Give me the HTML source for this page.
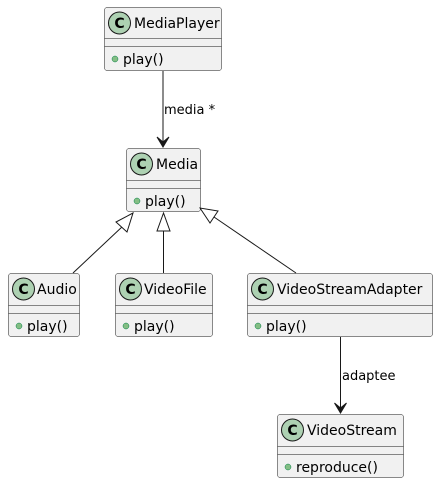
<!DOCTYPE html>
<html><head><meta charset="utf-8"><style>
html,body{margin:0;padding:0;background:#fff;}
svg{display:block;}
text{font-family:"DejaVu Sans","Liberation Sans",sans-serif;fill:#000;}
.box{fill:#F1F1F1;stroke:#181818;stroke-width:0.5;}
.sep{stroke:#181818;stroke-width:0.5;}
.ci{fill:#ADD1B2;stroke:#181818;stroke-width:1;}
.ln{stroke:#181818;stroke-width:1;fill:none;}
</style></head><body>
<svg width="438" height="484" viewBox="0 0 438 484" xmlns="http://www.w3.org/2000/svg">
<defs>
<g id="c"><circle class="ci" cx="0" cy="0" r="11"/><text x="0" y="5" text-anchor="middle" font-size="14" font-weight="bold">C</text></g>
</defs>

<rect class="box" x="104.5" y="7.5" width="117" height="63" rx="2.5"/>
<line class="sep" x1="104.5" y1="38.5" x2="221.5" y2="38.5"/>
<line class="sep" x1="104.5" y1="46.5" x2="221.5" y2="46.5"/>
<use href="#c" x="119.5" y="23"/>
<text x="134" y="28" font-size="14">MediaPlayer</text>
<circle cx="115" cy="59" r="3" fill="#84BE84" stroke="#038048" stroke-width="0.5"/>
<text x="123" y="64" font-size="14">play()</text>

<rect class="box" x="126.5" y="148.5" width="74" height="63" rx="2.5"/>
<line class="sep" x1="126.5" y1="180.5" x2="200.5" y2="180.5"/>
<line class="sep" x1="126.5" y1="188.5" x2="200.5" y2="188.5"/>
<use href="#c" x="141.5" y="164"/>
<text x="156" y="169" font-size="14">Media</text>
<circle cx="137" cy="201" r="3" fill="#84BE84" stroke="#038048" stroke-width="0.5"/>
<text x="145" y="206" font-size="14">play()</text>

<rect class="box" x="8.5" y="273.5" width="71" height="63" rx="2.5"/>
<line class="sep" x1="8.5" y1="305.5" x2="79.5" y2="305.5"/>
<line class="sep" x1="8.5" y1="313.5" x2="79.5" y2="313.5"/>
<use href="#c" x="23.5" y="289"/>
<text x="37" y="294" font-size="14">Audio</text>
<circle cx="19" cy="326" r="3" fill="#84BE84" stroke="#038048" stroke-width="0.5"/>
<text x="27" y="331" font-size="14">play()</text>

<rect class="box" x="115.5" y="273.5" width="97" height="63" rx="2.5"/>
<line class="sep" x1="115.5" y1="305.5" x2="212.5" y2="305.5"/>
<line class="sep" x1="115.5" y1="313.5" x2="212.5" y2="313.5"/>
<use href="#c" x="130.5" y="289"/>
<text x="144" y="294" font-size="14">VideoFile</text>
<circle cx="126" cy="326" r="3" fill="#84BE84" stroke="#038048" stroke-width="0.5"/>
<text x="134" y="331" font-size="14">play()</text>

<rect class="box" x="247.5" y="273.5" width="185" height="63" rx="2.5"/>
<line class="sep" x1="247.5" y1="305.5" x2="432.5" y2="305.5"/>
<line class="sep" x1="247.5" y1="313.5" x2="432.5" y2="313.5"/>
<use href="#c" x="262.5" y="289"/>
<text x="277" y="294" font-size="14">VideoStreamAdapter</text>
<circle cx="258" cy="326" r="3" fill="#84BE84" stroke="#038048" stroke-width="0.5"/>
<text x="266" y="331" font-size="14">play()</text>

<rect class="box" x="277.5" y="414.5" width="126" height="63" rx="2.5"/>
<line class="sep" x1="277.5" y1="446.5" x2="403.5" y2="446.5"/>
<line class="sep" x1="277.5" y1="454.5" x2="403.5" y2="454.5"/>
<use href="#c" x="292.5" y="430"/>
<text x="307" y="435" font-size="14">VideoStream</text>
<circle cx="288" cy="467" r="3" fill="#84BE84" stroke="#038048" stroke-width="0.5"/>
<text x="296" y="472" font-size="14">reproduce()</text>

<line class="ln" x1="163" y1="71" x2="163" y2="146"/>
<path d="M157,137 L163,147 L169,137 L163,142 Z" fill="#181818" stroke="#181818" stroke-width="1"/>
<text x="164" y="114" font-size="13">media *</text>

<line class="ln" x1="340.5" y1="337" x2="340.5" y2="412"/>
<path d="M334.5,403 L340.5,413 L346.5,403 L340.5,408 Z" fill="#181818" stroke="#181818" stroke-width="1"/>
<text x="342" y="380" font-size="13">adaptee</text>

<line class="ln" x1="73" y1="273" x2="123" y2="226"/>
<path d="M133,213 L116,222 L127,232 Z" fill="#fff" stroke="#181818" stroke-width="1"/>
<line class="ln" x1="163.5" y1="273" x2="163.5" y2="231"/>
<path d="M163.5,213 L157,231 L170,231 Z" fill="#fff" stroke="#181818" stroke-width="1"/>
<line class="ln" x1="296" y1="273" x2="214" y2="217"/>
<path d="M200,208 L210,223 L218,211 Z" fill="#fff" stroke="#181818" stroke-width="1"/>
</svg>
</body></html>
